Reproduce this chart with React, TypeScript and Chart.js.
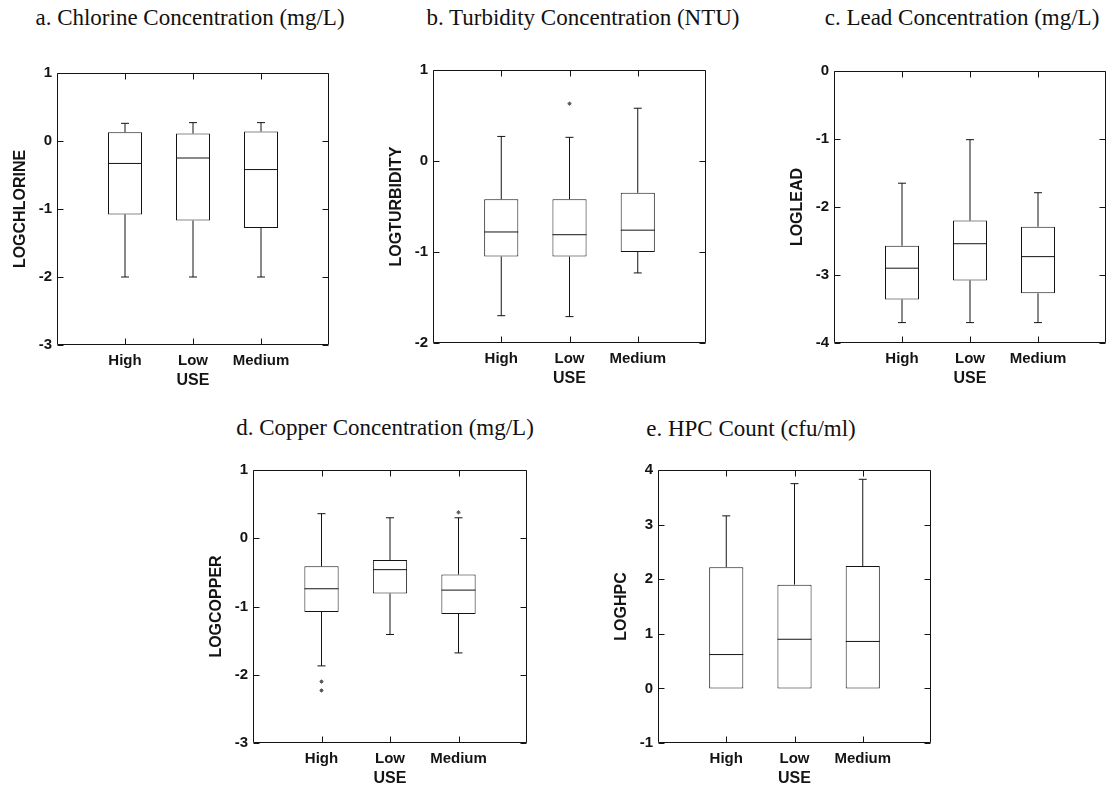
import React, { useEffect, useRef } from 'react';
import { Chart, registerables } from 'chart.js';

Chart.register(...registerables);

const categories = ['High', 'Low', 'Medium'];
const xAxisTitle = 'USE';

// a. Chlorine
const chlorineMin = [-2.0, -2.0, -2.0];
const chlorineQ1 = [-1.08, -1.17, -1.28];
const chlorineMedian = [-0.33, -0.25, -0.42];
const chlorineQ3 = [0.13, 0.11, 0.14];
const chlorineMax = [0.26, 0.27, 0.27];
const chlorineOutliers: number[][] = [[], [], []];
const chlorineTicks = [1, 0, -1, -2, -3];

// b. Turbidity
const turbidityMin = [-1.7, -1.71, -1.23];
const turbidityQ1 = [-1.05, -1.05, -1.0];
const turbidityMedian = [-0.78, -0.81, -0.76];
const turbidityQ3 = [-0.42, -0.42, -0.35];
const turbidityMax = [0.27, 0.26, 0.58];
const turbidityOutliers: number[][] = [[], [0.63], []];
const turbidityTicks = [1, 0, -1, -2];

// c. Lead
const leadMin = [-3.7, -3.7, -3.7];
const leadQ1 = [-3.36, -3.08, -3.27];
const leadMedian = [-2.9, -2.54, -2.73];
const leadQ3 = [-2.57, -2.2, -2.29];
const leadMax = [-1.65, -1.01, -1.79];
const leadOutliers: number[][] = [[], [], []];
const leadTicks = [0, -1, -2, -3, -4];

// d. Copper
const copperMin = [-1.87, -1.41, -1.68];
const copperQ1 = [-1.08, -0.81, -1.11];
const copperMedian = [-0.74, -0.46, -0.76];
const copperQ3 = [-0.41, -0.32, -0.53];
const copperMax = [0.36, 0.3, 0.3];
const copperOutliers: number[][] = [[-2.1, -2.23], [], [0.38]];
const copperTicks = [1, 0, -1, -2, -3];

// e. HPC
const hpcMin = [0, 0, 0];
const hpcQ1 = [0, 0, 0];
const hpcMedian = [0.62, 0.9, 0.86];
const hpcQ3 = [2.22, 1.9, 2.24];
const hpcMax = [3.16, 3.75, 3.83];
const hpcOutliers: number[][] = [[], [], []];
const hpcTicks = [4, 3, 2, 1, 0, -1];

type Spec = {
  title: string;
  yLabel: string;
  min: number[];
  q1: number[];
  med: number[];
  q3: number[];
  max: number[];
  outliers: number[][];
  ticks: number[];
};

type Layout = {
  frameLeft: number;
  frameTop: number;
  frameW: number;
  frameH: number;
  titleCenter: number;
  titleBaseline: number;
};

const specs: Spec[] = [
  { title: 'a. Chlorine Concentration (mg/L)', yLabel: 'LOGCHLORINE', min: chlorineMin, q1: chlorineQ1, med: chlorineMedian, q3: chlorineQ3, max: chlorineMax, outliers: chlorineOutliers, ticks: chlorineTicks },
  { title: 'b. Turbidity Concentration (NTU)', yLabel: 'LOGTURBIDITY', min: turbidityMin, q1: turbidityQ1, med: turbidityMedian, q3: turbidityQ3, max: turbidityMax, outliers: turbidityOutliers, ticks: turbidityTicks },
  { title: 'c. Lead Concentration (mg/L)', yLabel: 'LOGLEAD', min: leadMin, q1: leadQ1, med: leadMedian, q3: leadQ3, max: leadMax, outliers: leadOutliers, ticks: leadTicks },
  { title: 'd. Copper Concentration (mg/L)', yLabel: 'LOGCOPPER', min: copperMin, q1: copperQ1, med: copperMedian, q3: copperQ3, max: copperMax, outliers: copperOutliers, ticks: copperTicks },
  { title: 'e. HPC Count (cfu/ml)', yLabel: 'LOGHPC', min: hpcMin, q1: hpcQ1, med: hpcMedian, q3: hpcQ3, max: hpcMax, outliers: hpcOutliers, ticks: hpcTicks },
];

const layouts: Layout[] = [
  { frameLeft: 57, frameTop: 65, frameW: 280, frameH: 280, titleCenter: 190, titleBaseline: 25 },
  { frameLeft: 433, frameTop: 62, frameW: 281, frameH: 281, titleCenter: 583, titleBaseline: 25 },
  { frameLeft: 834, frameTop: 63, frameW: 280, frameH: 280, titleCenter: 962, titleBaseline: 25 },
  { frameLeft: 253, frameTop: 462, frameW: 282, frameH: 281, titleCenter: 385, titleBaseline: 435 },
  { frameLeft: 658, frameTop: 462, frameW: 281, frameH: 281, titleCenter: 751, titleBaseline: 436 },
];

const INK = '#141414';
const PAD_L = 4;
const Y_AXIS_W = 46;
const PAD_T = 10;
const PAD_R = 10;
const X_AXIS_H = 46;
const PAD_B = 4;
const TICK_LEN = 6;

const framePlugin = {
  id: 'frameTicks',
  afterDraw(chart: any) {
    const { ctx, chartArea } = chart;
    const { left, top, right, bottom } = chartArea;
    const xs = chart.scales.x;
    const ys = chart.scales.y;
    ctx.save();
    ctx.strokeStyle = INK;
    ctx.lineWidth = 1;
    const l = Math.round(left) + 0.5;
    const t = Math.round(top) + 0.5;
    const r = Math.round(right) - 0.5;
    const b = Math.round(bottom) - 0.5;
    ctx.beginPath();
    ctx.rect(l, t, r - l, b - t);
    ctx.stroke();
    ctx.beginPath();
    ys.ticks.forEach((tk: any) => {
      const py = Math.round(ys.getPixelForValue(tk.value)) + 0.5;
      ctx.moveTo(l, py);
      ctx.lineTo(l + TICK_LEN, py);
      ctx.moveTo(r, py);
      ctx.lineTo(r - TICK_LEN, py);
    });
    xs.ticks.forEach((tk: any) => {
      const px = Math.round(xs.getPixelForValue(tk.value)) + 0.5;
      ctx.moveTo(px, t);
      ctx.lineTo(px, t + TICK_LEN);
      ctx.moveTo(px, b);
      ctx.lineTo(px, b - TICK_LEN);
    });
    ctx.stroke();
    ctx.restore();
  },
};

function BoxPanel({ spec, layout }: { spec: Spec; layout: Layout }) {
  const ref = useRef<HTMLCanvasElement | null>(null);
  const W = PAD_L + Y_AXIS_W + layout.frameW + PAD_R;
  const H = PAD_T + layout.frameH + X_AXIS_H + PAD_B;
  const X0 = layout.frameLeft - PAD_L - Y_AXIS_W;
  const Y0 = layout.frameTop - PAD_T;

  useEffect(() => {
    const canvas = ref.current;
    if (!canvas) return;
    const pos = categories.map((_, i) => i + 1);
    const boxes = pos.map((x, i) => ({ x, y: [spec.q1[i], spec.q3[i]] }));
    const whiskers: any[] = [];
    pos.forEach((x, i) => {
      whiskers.push({ x, y: spec.min[i] }, { x, y: spec.q1[i] }, { x, y: null });
      whiskers.push({ x, y: spec.q3[i] }, { x, y: spec.max[i] }, { x, y: null });
    });
    const caps: any[] = [];
    pos.forEach((x, i) => {
      if (spec.min[i] < spec.q1[i]) caps.push({ x, y: spec.min[i] });
      caps.push({ x, y: spec.max[i] });
    });
    const medians = pos.map((x, i) => ({ x, y: spec.med[i] }));
    const outliers: any[] = [];
    pos.forEach((x, i) => spec.outliers[i].forEach((v) => outliers.push({ x, y: v })));

    const tickFont = { family: '"Liberation Sans", Arial, sans-serif', size: 15, weight: 'bold' as const };
    const titleFont = { family: '"Liberation Sans", Arial, sans-serif', size: 16, weight: 'bold' as const };
    const yMin = Math.min(...spec.ticks);
    const yMax = Math.max(...spec.ticks);

    const chart = new Chart(canvas, {
      type: 'bar',
      data: {
        datasets: [
          {
            type: 'scatter',
            data: medians,
            pointStyle: 'line',
            pointRadius: 17,
            pointHoverRadius: 17,
            pointBorderColor: INK,
            pointBorderWidth: 1,
            borderColor: INK,
          } as any,
          {
            type: 'scatter',
            data: caps,
            pointStyle: 'line',
            pointRadius: 4,
            pointHoverRadius: 4,
            pointBorderColor: INK,
            pointBorderWidth: 1,
            borderColor: INK,
          } as any,
          {
            type: 'scatter',
            data: outliers,
            pointStyle: 'star',
            pointRadius: 2,
            pointBorderColor: '#555',
            pointBorderWidth: 1,
            borderColor: '#555',
          } as any,
          {
            type: 'bar',
            data: boxes,
            backgroundColor: '#ffffff',
            borderColor: INK,
            borderWidth: 1,
            borderSkipped: false,
            barPercentage: 0.5,
            categoryPercentage: 1.0,
          } as any,
          {
            type: 'line',
            data: whiskers,
            borderColor: INK,
            borderWidth: 1,
            pointRadius: 0,
            spanGaps: false,
            fill: false,
          } as any,
        ],
      },
      options: {
        responsive: false,
        animation: false,
        events: [],
        layout: { padding: { left: PAD_L, top: PAD_T, right: PAD_R, bottom: PAD_B } },
        plugins: { legend: { display: false }, tooltip: { enabled: false }, title: { display: false } },
        scales: {
          x: {
            type: 'linear',
            min: 0,
            max: categories.length + 1,
            offset: false,
            afterBuildTicks: (s: any) => {
              s.ticks = pos.map((v) => ({ value: v }));
            },
            afterFit: (s: any) => {
              s.height = X_AXIS_H;
            },
            ticks: {
              autoSkip: false,
              maxRotation: 0,
              padding: 7,
              color: INK,
              font: tickFont,
              callback: (v: any) => categories[Number(v) - 1] ?? '',
            },
            grid: { display: false, drawTicks: false },
            border: { display: false },
            title: { display: true, text: xAxisTitle, color: INK, font: titleFont, padding: { top: 0, bottom: 1 } },
          },
          y: {
            type: 'linear',
            min: yMin,
            max: yMax,
            afterBuildTicks: (s: any) => {
              s.ticks = spec.ticks.map((v) => ({ value: v }));
            },
            afterFit: (s: any) => {
              s.width = Y_AXIS_W;
            },
            ticks: {
              padding: 5,
              color: INK,
              font: tickFont,
              callback: (v: any) => String(v),
            },
            grid: { display: false, drawTicks: false },
            border: { display: false },
            title: { display: true, text: spec.yLabel, color: INK, font: titleFont, padding: 0 },
          },
        },
      } as any,
      plugins: [framePlugin],
    });
    return () => chart.destroy();
  }, [spec, layout]);

  return (
    <>
      <div
        style={{
          position: 'absolute',
          left: layout.titleCenter - 250,
          width: 500,
          top: layout.titleBaseline - 19,
          textAlign: 'center',
          whiteSpace: 'nowrap',
          fontFamily: '"Liberation Serif", "Times New Roman", serif',
          fontSize: 23,
          lineHeight: '23px',
          color: '#111',
        }}
      >
        {spec.title}
      </div>
      <canvas
        ref={ref}
        width={W}
        height={H}
        style={{ position: 'absolute', left: X0, top: Y0, width: W, height: H }}
      />
    </>
  );
}

export default function App() {
  return (
    <div
      style={{
        position: 'absolute',
        left: 0,
        top: 0,
        width: 1115,
        height: 786,
        overflow: 'hidden',
        background: '#ffffff',
      }}
    >
      {specs.map((s, i) => (
        <BoxPanel key={i} spec={s} layout={layouts[i]} />
      ))}
    </div>
  );
}
